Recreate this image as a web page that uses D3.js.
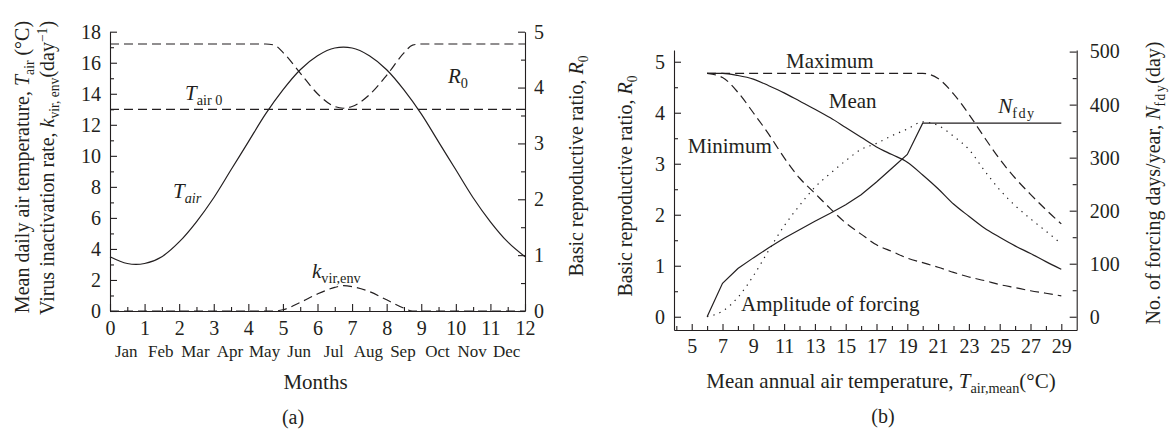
<!DOCTYPE html>
<html>
<head>
<meta charset="utf-8">
<script src="https://cdn.jsdelivr.net/npm/d3@7"></script>
<style>
body { margin: 0; background: #fff; }
svg { display: block; background: #fff; font-family: "Liberation Serif", "DejaVu Serif", serif; }
text { fill: #231f20; }
.axis path, .axis line { stroke: #231f20; stroke-width: 1.1; }
.axis text { font-size: 20px; font-family: "Liberation Serif", serif; fill: #231f20; }
.curve { fill: none; stroke: #231f20; stroke-width: 1.2; }
</style>
</head>
<body>
<svg width="1169" height="435"></svg>
<script>
// ---------- data, panel (a) ----------
var months = ["Jan", "Feb", "Mar", "Apr", "May", "Jun", "Jul", "Aug", "Sep", "Oct", "Nov", "Dec"];

var tairMonth = [0, 0.5, 0.75, 1, 1.5, 2, 2.5, 3, 3.5, 4, 4.5, 5, 5.5, 6, 6.5, 6.75, 7, 7.5, 8, 8.5, 9, 9.5, 10, 10.5, 11, 11.5, 12];
var tairValues = [3.5, 3.06, 3.0, 3.06, 3.5, 4.45, 5.75, 7.3, 9.1, 10.9, 12.7, 14.25, 15.55, 16.45, 16.95, 17.0, 16.95, 16.45, 15.55, 14.25, 12.7, 10.9, 9.1, 7.3, 5.75, 4.45, 3.5];

var bumpMonth = [0, 1, 2, 3, 4, 4.5, 4.75, 5, 5.5, 6, 6.5, 6.75, 7, 7.5, 8, 8.5, 8.75, 9, 10, 11, 12];
var r0Month = [4.78, 4.78, 4.78, 4.78, 4.78, 4.78, 4.76, 4.63, 4.26, 3.89, 3.66, 3.63, 3.66, 3.87, 4.22, 4.62, 4.76, 4.78, 4.78, 4.78, 4.78];
var kvirValues = [0, 0, 0, 0, 0, 0, 0, 0.08, 0.55, 1.1, 1.52, 1.63, 1.57, 1.25, 0.72, 0.18, 0, 0, 0, 0, 0];

var tair0 = 13;

// ---------- data, panel (b) ----------
var tempMean = [6, 7, 8, 9, 10, 11, 12, 13, 14, 15, 16, 17, 18, 19, 20, 21, 22, 23, 24, 25, 26, 27, 28, 29];
var r0Max  = [4.77, 4.77, 4.77, 4.77, 4.77, 4.77, 4.77, 4.77, 4.77, 4.77, 4.77, 4.77, 4.77, 4.77, 4.77, 4.67, 4.37, 3.97, 3.52, 3.09, 2.72, 2.40, 2.10, 1.82];
var r0Mean = [4.77, 4.77, 4.73, 4.66, 4.53, 4.39, 4.23, 4.07, 3.90, 3.71, 3.52, 3.33, 3.18, 3.03, 2.78, 2.51, 2.21, 1.97, 1.74, 1.56, 1.39, 1.24, 1.08, 0.93];
var r0Min  = [4.77, 4.69, 4.40, 4.00, 3.58, 3.12, 2.72, 2.42, 2.12, 1.84, 1.62, 1.41, 1.28, 1.15, 1.06, 0.97, 0.87, 0.78, 0.71, 0.63, 0.57, 0.51, 0.46, 0.41];
var amplitude = [0, 0.11, 0.38, 0.8, 1.3, 1.78, 2.18, 2.54, 2.81, 3.06, 3.28, 3.40, 3.55, 3.68, 3.82, 3.75, 3.54, 3.28, 2.87, 2.49, 2.18, 1.92, 1.68, 1.43];
var nfdy = [0, 63, 91, 111, 130, 148, 164, 180, 195, 211, 230, 254, 280, 306, 365, 365, 365, 365, 365, 365, 365, 365, 365, 365];

var svg = d3.select("svg");

// rich text helper: parts = [text, "sub"/"sup"/"", italic, letter-spacing]
function rich(g, parts, attrs) {
    var t = g.append("text");
    for (var k in attrs) t.attr(k, attrs[k]);
    var shift = 0;
    parts.forEach(function(p) {
        var s = t.append("tspan").text(p[0]);
        var want = p[1] === "sub" ? 5 : (p[1] === "sup" ? -7 : 0);
        s.attr("dy", want - shift);
        shift = want;
        if (p[2]) s.style("font-style", "italic");
        if (p[1]) s.style("font-size", "0.68em");
        if (p[3]) s.style("letter-spacing", p[3]);
    });
    return t;
}

function cleanAxis(g) {
    g.attr("font-size", null).attr("font-family", null);
}

var fmt = d3.format("d");

// ================= panel (a) =================
var x = d3.scaleLinear().domain([0, 12]).range([110, 525]);
var yL = d3.scaleLinear().domain([0, 18]).range([311, 31.7]);
var yR = d3.scaleLinear().domain([0, 5]).range([311, 31.7]);

var a = svg.append("g");

a.append("g").attr("class", "axis").attr("transform", "translate(0,311)")
    .call(d3.axisBottom(x).tickValues(d3.range(0.5, 12, 1)).tickSize(-4).tickSizeOuter(0).tickFormat(""))
    .call(function(g) { g.select(".domain").remove(); });
a.append("g").attr("class", "axis").attr("transform", "translate(0,311)")
    .call(d3.axisBottom(x).tickValues(d3.range(0, 13, 1)).tickSize(-7).tickSizeOuter(0).tickPadding(10).tickFormat(fmt))
    .call(cleanAxis);

a.append("g").attr("class", "axis").attr("transform", "translate(110,0)")
    .call(d3.axisLeft(yL).tickValues(d3.range(1, 18, 2)).tickSize(-4).tickSizeOuter(0).tickFormat(""))
    .call(function(g) { g.select(".domain").remove(); });
a.append("g").attr("class", "axis").attr("transform", "translate(110,0)")
    .call(d3.axisLeft(yL).tickValues(d3.range(0, 19, 2)).tickSize(-7).tickSizeOuter(0).tickPadding(9).tickFormat(fmt))
    .call(cleanAxis);

a.append("g").attr("class", "axis").attr("transform", "translate(525,0)")
    .call(d3.axisRight(yR).tickValues(d3.range(0.5, 5, 1)).tickSize(-4).tickSizeOuter(0).tickFormat(""))
    .call(function(g) { g.select(".domain").remove(); });
a.append("g").attr("class", "axis").attr("transform", "translate(525,0)")
    .call(d3.axisRight(yR).tickValues(d3.range(0, 6, 1)).tickSize(-7).tickSizeOuter(0).tickPadding(9).tickFormat(fmt))
    .call(cleanAxis);

// month names
a.selectAll(".month").data(months).enter().append("text")
    .attr("class", "month")
    .attr("x", function(d, i) { return x(i + 0.47); })
    .attr("y", 357)
    .attr("text-anchor", "middle")
    .style("font-size", "17px")
    .text(function(d) { return d; });

a.append("text").attr("x", x(6) - 2).attr("y", 389).attr("text-anchor", "middle")
    .style("font-size", "21px").text("Months");
a.append("text").attr("x", 293).attr("y", 424).attr("text-anchor", "middle")
    .style("font-size", "20px").text("(a)");

// curves
var lineL = d3.line().x(function(d) { return x(d[0]); }).y(function(d) { return yL(d[1]); }).curve(d3.curveMonotoneX);
var lineR = d3.line().x(function(d) { return x(d[0]); }).y(function(d) { return yR(d[1]); }).curve(d3.curveMonotoneX);

a.append("path").attr("class", "curve").attr("d", lineL(d3.zip(tairMonth, tairValues)));
a.append("path").attr("class", "curve").style("stroke-dasharray", "9,5")
    .attr("d", lineR(d3.zip(bumpMonth, r0Month)));
a.append("path").attr("class", "curve").style("stroke-dasharray", "9,5")
    .attr("d", lineL(d3.zip(bumpMonth, kvirValues)));
a.append("path").attr("class", "curve").style("stroke-dasharray", "9,5")
    .attr("d", lineL([[0, tair0], [12, tair0]]));

// labels inside (a)
rich(a, [["T", "", true], ["air 0", "sub"]], {x: x(2.17), y: yL(13.6), "font-size": 21});
rich(a, [["R", "", true], ["0", "sub"]], {x: x(9.77), y: yL(14.7), "font-size": 21});
rich(a, [["T", "", true], ["air", "sub", true]], {x: x(1.82), y: yL(7.3), "font-size": 21});
rich(a, [["k", "", true], ["vir,env", "sub"]], {x: x(5.84), y: yL(2.1), "font-size": 21});

// axis titles (a)
rich(a, [["Mean daily air temperature, "], ["T", "", true], ["air", "sub"], [" (°C)"]],
    {transform: "translate(29,167) rotate(-90)", "text-anchor": "middle", "font-size": 20});
rich(a, [["Virus inactivation rate, "], ["k", "", true], ["vir, env", "sub"], ["(day"], ["−1", "sup"], [")"]],
    {transform: "translate(54,168) rotate(-90)", "text-anchor": "middle", "font-size": 20});
rich(a, [["Basic reproductive ratio, "], ["R", "", true], ["0", "sub"]],
    {transform: "translate(583,166) rotate(-90)", "text-anchor": "middle", "font-size": 20});

// ================= panel (b) =================
var x2 = d3.scaleLinear().domain([3.85, 30]).range([674, 1076.7]);
var y2 = d3.scaleLinear().domain([-0.26, 5.23]).range([330, 50]);
var y3 = d3.scaleLinear().domain([-25, 503]).range([330, 50]);

var b = svg.append("g");

b.append("g").attr("class", "axis").attr("transform", "translate(0,330)")
    .call(d3.axisBottom(x2).tickValues(d3.range(4, 30, 2)).tickSize(-4).tickSizeOuter(0).tickFormat(""))
    .call(function(g) { g.select(".domain").remove(); });
b.append("g").attr("class", "axis").attr("transform", "translate(0,330)")
    .call(d3.axisBottom(x2).tickValues(d3.range(5, 30, 2)).tickSize(-6).tickSizeOuter(0).tickPadding(9).tickFormat(fmt))
    .call(cleanAxis);

b.append("g").attr("class", "axis").attr("transform", "translate(674,0)")
    .call(d3.axisLeft(y2).tickValues(d3.range(0.5, 5, 1)).tickSize(-4).tickSizeOuter(0).tickFormat(""))
    .call(function(g) { g.select(".domain").remove(); });
b.append("g").attr("class", "axis").attr("transform", "translate(674,0)")
    .call(d3.axisLeft(y2).tickValues(d3.range(0, 6, 1)).tickSize(-7).tickSizeOuter(0).tickPadding(9).tickFormat(fmt))
    .call(cleanAxis);

b.append("g").attr("class", "axis").attr("transform", "translate(1076.7,0)")
    .call(d3.axisRight(y3).tickValues(d3.range(50, 500, 100)).tickSize(-4).tickSizeOuter(0).tickFormat(""))
    .call(function(g) { g.select(".domain").remove(); });
b.append("g").attr("class", "axis").attr("transform", "translate(1076.7,0)")
    .call(d3.axisRight(y3).tickValues(d3.range(0, 600, 100)).tickSize(-7).tickSizeOuter(0).tickPadding(13).tickFormat(fmt))
    .call(cleanAxis);

var line2 = d3.line().x(function(d) { return x2(d[0]); }).y(function(d) { return y2(d[1]); }).curve(d3.curveMonotoneX);
var line3 = d3.line().x(function(d) { return x2(d[0]); }).y(function(d) { return y3(d[1]); });

b.append("path").attr("class", "curve").style("stroke-dasharray", "9,5")
    .attr("d", line2(d3.zip(tempMean, r0Max)));
b.append("path").attr("class", "curve").style("stroke-dasharray", "9,5")
    .attr("d", line2(d3.zip(tempMean, r0Min)));
b.append("path").attr("class", "curve").attr("d", line2(d3.zip(tempMean, r0Mean)));
b.append("path").attr("class", "curve").style("stroke-dasharray", "1.3,5.2")
    .attr("d", line2(d3.zip(tempMean, amplitude)));
b.append("path").attr("class", "curve").attr("d", line3(d3.zip(tempMean, nfdy)));

// labels inside (b)
b.append("text").attr("x", x2(13.97)).attr("y", y2(4.87)).attr("text-anchor", "middle")
    .style("font-size", "21px").text("Maximum");
b.append("text").attr("x", x2(13.9)).attr("y", y2(4.09)).style("font-size", "21px").text("Mean");
b.append("text").attr("x", x2(4.74)).attr("y", y2(3.21)).style("font-size", "21px").text("Minimum");
b.append("text").attr("x", x2(8.2)).attr("y", y2(0.12)).style("font-size", "21px").text("Amplitude of forcing");
rich(b, [["N", "", true], ["fdy", "sub", false, "1.5px"]], {x: x2(24.9), y: y2(4.0), "font-size": 21});

// axis titles (b)
rich(b, [["Basic reproductive ratio, "], ["R", "", true], ["0", "sub"]],
    {transform: "translate(632,186) rotate(-90)", "text-anchor": "middle", "font-size": 20});
rich(b, [["No. of forcing days/year, "], ["N", "", true], ["fdy", "sub", false, "1.5px"], ["(day)"]],
    {transform: "translate(1160,183) rotate(-90)", "text-anchor": "middle", "font-size": 20});
rich(b, [["Mean annual air temperature, "], ["T", "", true], ["air,mean", "sub"], ["(°C)"]],
    {x: 881, y: 388, "text-anchor": "middle", "font-size": 21});
b.append("text").attr("x", 883).attr("y", 423).attr("text-anchor", "middle")
    .style("font-size", "20px").text("(b)");
</script>
</body>
</html>
